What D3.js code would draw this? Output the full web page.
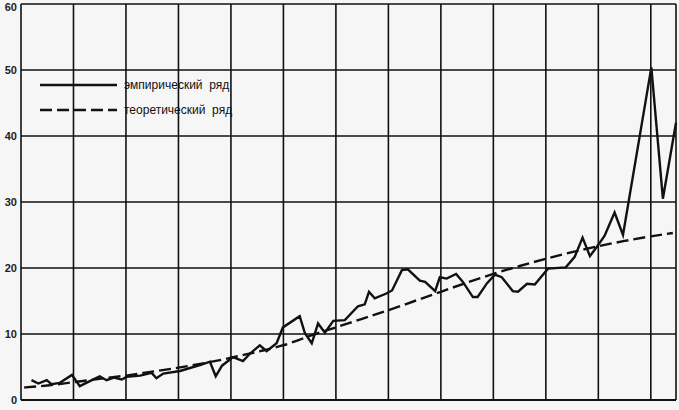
<!DOCTYPE html>
<html>
<head>
<meta charset="utf-8">
<script src="https://cdn.jsdelivr.net/npm/d3@7"></script>
<style>
  html, body { margin: 0; padding: 0; background: #f6f6f6; }
  svg { display: block; }
</style>
</head>
<body>
<svg id="chart" width="679" height="410"></svg>
<script>
// ---- data ----
const yTicks = [0, 10, 20, 30, 40, 50, 60];
const xGrid = [0, 10, 20, 30, 40, 50, 60, 70, 80, 90, 100, 110, 120];

const empT = [2.0, 3.3, 4.9, 5.8, 7.4, 9.7, 11.2, 13.5, 15.0, 16.3, 17.7, 19.2, 20.1, 22.7, 24.9, 25.8, 27.1, 30.3,
  34.1, 36.0, 37.1, 38.3, 40.4, 42.3, 43.6, 45.5, 46.8, 48.7, 49.9, 53.1, 54.1, 55.4, 56.6, 57.9, 59.5, 61.7,
  64.2, 65.5, 66.3, 67.4, 69.5, 70.7, 72.6, 73.7, 76.0, 77.0, 78.9, 79.8, 81.1, 82.9, 84.2, 86.1, 87.0, 88.8,
  90.3, 91.6, 93.7, 94.7, 96.4, 97.9, 100.4, 103.8, 105.5, 107.0, 108.4, 109.9, 111.2, 113.1, 114.7, 120.1,
  122.3, 124.8];
const empV = [3.0, 2.5, 3.0, 2.4, 2.6, 3.8, 2.1, 3.0, 3.6, 3.0, 3.4, 3.1, 3.5, 3.7, 4.1, 3.3, 4.0, 4.4,
  5.3, 5.8, 3.6, 5.2, 6.5, 5.9, 7.0, 8.3, 7.4, 8.6, 11.0, 12.7, 10.1, 8.6, 11.6, 10.2, 12.0, 12.1,
  14.2, 14.5, 16.4, 15.4, 16.1, 16.6, 19.7, 19.8, 18.1, 17.9, 16.5, 18.6, 18.4, 19.1, 17.9, 15.6, 15.6, 17.7,
  19.0, 18.6, 16.5, 16.4, 17.6, 17.5, 19.9, 20.1, 21.7, 24.6, 21.8, 23.4, 24.9, 28.4, 25.0, 50.4,
  30.5, 42.0];

const theoT = [0.6, 5, 10, 15, 20, 25, 30, 35, 40, 45, 50, 55, 60, 65, 70, 75, 80, 85, 90, 95, 100, 105, 110, 115, 120, 124.2];
const theoV = [1.9, 2.2, 2.7, 3.2, 3.7, 4.3, 4.9, 5.6, 6.4, 7.3, 8.3, 9.7, 11.0, 12.3, 13.6, 15.0, 16.4, 17.8, 19.1, 20.3, 21.4, 22.4, 23.3, 24.1, 24.8, 25.3];

const legendLabels = ["эмпирический  ряд", "теоретический  ряд"];

// ---- layout ----
const svg = d3.select("#chart");
const mLeft = 21, mRight = 676, mTop = 4, mBottom = 400;
const x = d3.scaleLinear().domain([0, 124.8]).range([mLeft, mRight]);
const y = d3.scaleLinear().domain([0, 60]).range([mBottom, mTop]);

const ink = "#111";

// grid
const g = svg.append("g");
g.selectAll("line.h").data(yTicks).enter().append("line")
  .attr("x1", mLeft).attr("x2", mRight)
  .attr("y1", d => y(d)).attr("y2", d => y(d))
  .attr("stroke", ink).attr("stroke-width", 1.6);
g.selectAll("line.v").data(xGrid).enter().append("line")
  .attr("x1", d => x(d)).attr("x2", d => x(d))
  .attr("y1", mTop).attr("y2", mBottom)
  .attr("stroke", ink).attr("stroke-width", 1.6);
g.append("line").attr("x1", mRight).attr("x2", mRight).attr("y1", mTop).attr("y2", mBottom)
  .attr("stroke", ink).attr("stroke-width", 1.6);
g.append("line").attr("x1", mLeft).attr("x2", mRight).attr("y1", mBottom).attr("y2", mBottom)
  .attr("stroke", ink).attr("stroke-width", 2.2);

// y axis labels
const yAxis = d3.axisLeft(y).tickValues(yTicks).tickSize(0).tickPadding(4);
const ya = svg.append("g").attr("transform", `translate(${mLeft},0)`).call(yAxis);
ya.select(".domain").remove();
ya.selectAll("text").attr("font-family", "Arial, 'Liberation Sans', sans-serif")
  .attr("font-size", 11).attr("font-weight", "bold").attr("fill", "#222")
  .attr("dy", d => d === 60 ? "0.62em" : "0.32em");

// lines
const emp = empT.map((t, i) => [t, empV[i]]);
const theo = theoT.map((t, i) => [t, theoV[i]]);

svg.append("path").datum(theo)
  .attr("d", d3.line().x(d => x(d[0])).y(d => y(d[1])).curve(d3.curveMonotoneX))
  .attr("fill", "none").attr("stroke", ink).attr("stroke-width", 2.4)
  .attr("stroke-dasharray", "12,5");

svg.append("path").datum(emp)
  .attr("d", d3.line().x(d => x(d[0])).y(d => y(d[1])))
  .attr("fill", "none").attr("stroke", ink).attr("stroke-width", 2.4)
  .attr("stroke-linejoin", "miter");

// legend
const leg = svg.append("g");
const legY = [85, 110];
leg.append("line").attr("x1", 40).attr("x2", 117).attr("y1", legY[0]).attr("y2", legY[0])
  .attr("stroke", ink).attr("stroke-width", 2.4);
leg.append("line").attr("x1", 40).attr("x2", 117).attr("y1", legY[1]).attr("y2", legY[1])
  .attr("stroke", ink).attr("stroke-width", 2.4).attr("stroke-dasharray", "12,5");
leg.selectAll("text").data(legendLabels).enter().append("text")
  .attr("x", 124).attr("y", (d, i) => legY[i] + 4)
  .attr("font-family", "Arial, 'Liberation Sans', sans-serif")
  .attr("font-size", 12).attr("fill", "#111")
  .style("white-space", "pre")
  .text(d => d);
</script>
</body>
</html>
